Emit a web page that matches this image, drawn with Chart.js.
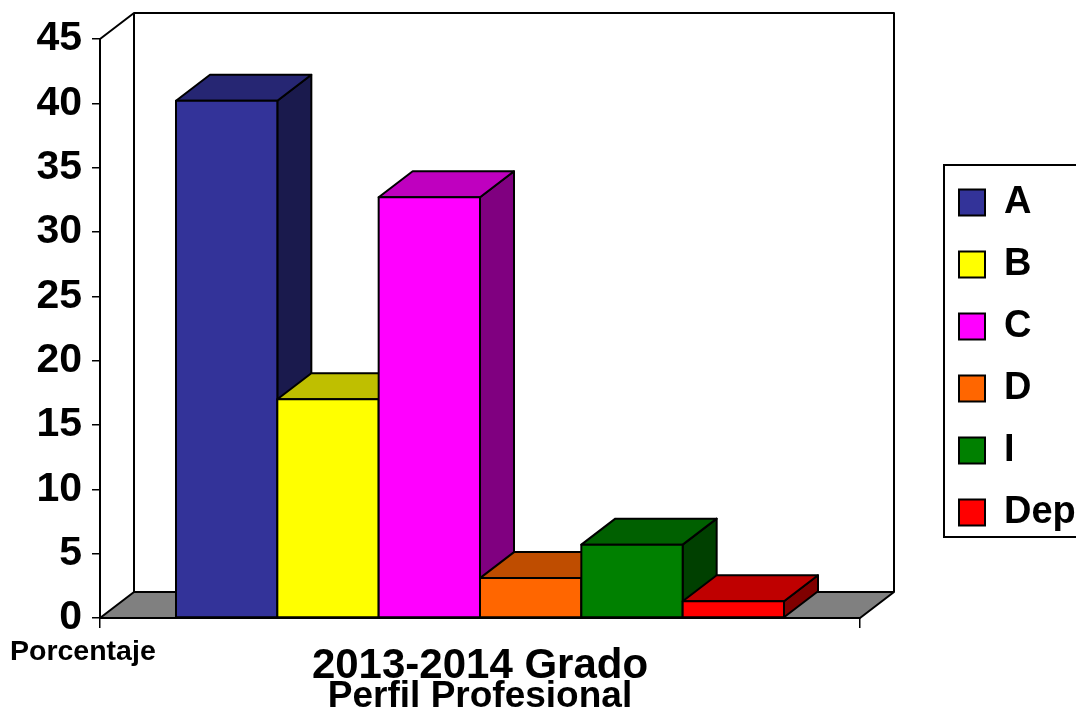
<!DOCTYPE html>
<html>
<head>
<meta charset="utf-8">
<script src="https://cdn.jsdelivr.net/npm/chart.js@4.4.0/dist/chart.umd.min.js"></script>
<style>
  html, body { margin: 0; padding: 0; background: #fff; }
</style>
</head>
<body>
<canvas id="barChart" width="1076" height="715"></canvas>
<script>
// data
var categories = ["2013-2014 Grado"];
var seriesNames = ["A", "B", "C", "D", "I", "Dep"];
var seriesValues = [40.2, 17, 32.7, 3.1, 5.7, 1.3];
var seriesColors = ["#333399", "#FFFF00", "#FF00FF", "#FF6600", "#008000", "#FF0000"];
var yTicks = [0, 5, 10, 15, 20, 25, 30, 35, 40, 45];
var xTitle = "Perfil Profesional";
var yTitle = "Porcentaje";

var FONT = "'Liberation Sans', Arial, sans-serif";
var DX = 34, DY = -26; // depth of the 3d effect

function shade(hex, f) {
  var n = parseInt(hex.slice(1), 16);
  var r = Math.round(((n >> 16) & 255) * f);
  var g = Math.round(((n >> 8) & 255) * f);
  var b = Math.round((n & 255) * f);
  return 'rgb(' + r + ',' + g + ',' + b + ')';
}

function poly(ctx, pts, fill) {
  ctx.beginPath();
  ctx.moveTo(pts[0][0], pts[0][1]);
  for (var i = 1; i < pts.length; i++) ctx.lineTo(pts[i][0], pts[i][1]);
  ctx.closePath();
  ctx.fillStyle = fill;
  ctx.fill();
  ctx.stroke();
}

var threeD = {
  id: 'threeD',
  beforeDatasetsDraw: function(chart) {
    var ctx = chart.ctx, a = chart.chartArea;
    ctx.save();
    ctx.lineWidth = 2;
    ctx.strokeStyle = '#000';
    ctx.lineJoin = 'round';
    // floor
    poly(ctx, [[a.left, a.bottom], [a.left + DX, a.bottom + DY], [a.right + DX, a.bottom + DY], [a.right, a.bottom]], '#808080');
    // walls
    ctx.beginPath();
    ctx.moveTo(a.left, a.top);
    ctx.lineTo(a.left + DX, a.top + DY);
    ctx.lineTo(a.right + DX, a.top + DY);
    ctx.lineTo(a.right + DX, a.bottom + DY);
    ctx.moveTo(a.left + DX, a.top + DY);
    ctx.lineTo(a.left + DX, a.bottom + DY);
    ctx.stroke();
    ctx.restore();
  },
  afterDatasetsDraw: function(chart) {
    var ctx = chart.ctx;
    ctx.save();
    ctx.lineWidth = 2;
    ctx.strokeStyle = '#000';
    ctx.lineJoin = 'round';
    chart.data.datasets.forEach(function(ds, i) {
      var bar = chart.getDatasetMeta(i).data[0];
      var p = bar.getProps(['x', 'y', 'base', 'width']);
      var l = p.x - p.width / 2, r = p.x + p.width / 2, t = p.y, b = p.base;
      var c = ds.backgroundColor;
      poly(ctx, [[r, t], [r + DX, t + DY], [r + DX, b + DY], [r, b]], shade(c, 0.5));
      poly(ctx, [[l, t], [l + DX, t + DY], [r + DX, t + DY], [r, t]], shade(c, 0.75));
      poly(ctx, [[l, t], [r, t], [r, b], [l, b]], c);
    });
    ctx.restore();
  },
  afterDraw: function(chart) {
    var ctx = chart.ctx;
    ctx.save();
    // legend frame
    var hb = chart.legend.legendHitBoxes;
    if (hb && hb.length) {
      var last = hb[hb.length - 1];
      var x0 = hb[0].left - 15, y0 = hb[0].top - 18.5;
      var y1 = last.top + last.height + 5.5;
      ctx.lineWidth = 2;
      ctx.strokeStyle = '#000';
      ctx.strokeRect(x0, y0, 1100 - x0, y1 - y0);
    }
    // value axis title, Excel put it under the zero
    ctx.fillStyle = '#000';
    ctx.font = 'bold 28.5px ' + FONT;
    ctx.textBaseline = 'middle';
    ctx.textAlign = 'left';
    ctx.fillText(yTitle, 10, 652);
    ctx.restore();
  }
};

var datasets = seriesNames.map(function(name, i) {
  return {
    label: name,
    data: [seriesValues[i]],
    backgroundColor: seriesColors[i],
    borderColor: '#000',
    borderWidth: 2,
    borderSkipped: false
  };
});

var ctxB = document.getElementById("barChart").getContext('2d');
var myBarChart = new Chart(ctxB, {
  type: 'bar',
  data: {
    labels: categories,
    datasets: datasets
  },
  options: {
    responsive: false,
    animation: false,
    categoryPercentage: 0.8,
    barPercentage: 1.0,
    layout: { padding: 0 },
    plugins: {
      tooltip: { enabled: false },
      legend: {
        position: 'right',
        maxWidth: 141,
        labels: {
          color: '#000',
          boxWidth: 26,
          boxHeight: 26,
          padding: 24,
          font: { family: FONT, size: 38, weight: 'bold' }
        }
      }
    },
    scales: {
      x: {
        position: 'bottom',
        afterFit: function(s) { s.height = 97; },
        grid: { offset: true, drawOnChartArea: false, color: '#000', lineWidth: 1.5, tickLength: 10 },
        border: { color: '#000', width: 2 },
        ticks: { color: '#000', padding: 17, maxRotation: 0, font: { family: FONT, size: 42, weight: 'bold', lineHeight: 1 } },
        title: { display: true, text: xTitle, color: '#000', padding: 0, font: { family: FONT, size: 37, weight: 'bold', lineHeight: 1 } }
      },
      xTop: {
        type: 'linear',
        axis: 'x',
        position: 'top',
        afterFit: function(s) { s.height = 39; },
        grid: { display: false },
        border: { display: false },
        ticks: { display: false }
      },
      y: {
        min: 0,
        max: 45,
        afterFit: function(s) { s.width = 100; },
        afterBuildTicks: function(s) { s.ticks = yTicks.map(function(v) { return { value: v }; }); },
        grid: { drawOnChartArea: false, color: '#000', lineWidth: 1.5, tickLength: 8 },
        border: { color: '#000', width: 2 },
        ticks: { color: '#000', padding: 10, font: { family: FONT, size: 41, weight: 'bold', lineHeight: 1 } }
      },
      yRight: {
        type: 'linear',
        position: 'right',
        afterFit: function(s) { s.width = 75; },
        grid: { display: false },
        border: { display: false },
        ticks: { display: false }
      }
    }
  },
  plugins: [threeD]
});
</script>
</body>
</html>
